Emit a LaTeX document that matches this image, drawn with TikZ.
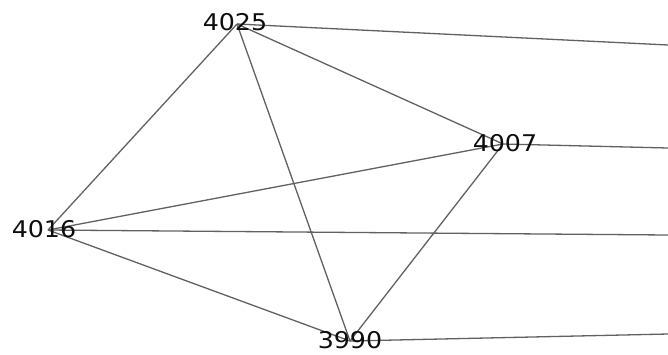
\documentclass[tikz,border=0pt]{standalone}
\usepackage{fontspec}
\setmainfont{DejaVu Sans}
\begin{document}
\begin{tikzpicture}[x=1pt,y=-1pt,
  lbl/.style={inner sep=0pt, font=\fontsize{23}{23}\selectfont, text=black!95, xscale=1.1},
  edge/.style={draw=black!62, line width=1.3pt}]
\useasboundingbox (0,0) rectangle (668,354);
\coordinate (a) at (237,24);
\coordinate (b) at (503,144);
\coordinate (c) at (48,230);
\coordinate (d) at (350,341);
\coordinate (ra) at (668,45);
\coordinate (rb) at (668,148);
\coordinate (rc) at (668,235);
\coordinate (rd) at (668,334);
\draw[edge] (a) -- (c);
\draw[edge] (a) -- (b);
\draw[edge] (a) -- (d);
\draw[edge] (b) -- (c);
\draw[edge] (b) -- (d);
\draw[edge] (c) -- (d);
\draw[edge] (a) -- (ra);
\draw[edge] (b) -- (rb);
\draw[edge] (c) -- (rc);
\draw[edge] (d) -- (rd);
\node[lbl] (n4025) at (235,22) {4025};
\node[lbl] (n4007) at (505,143) {4007};
\node[lbl] (n4016) at (44,229) {4016};
\node[lbl] (n3990) at (350,340) {3990};
\end{tikzpicture}
\end{document}
